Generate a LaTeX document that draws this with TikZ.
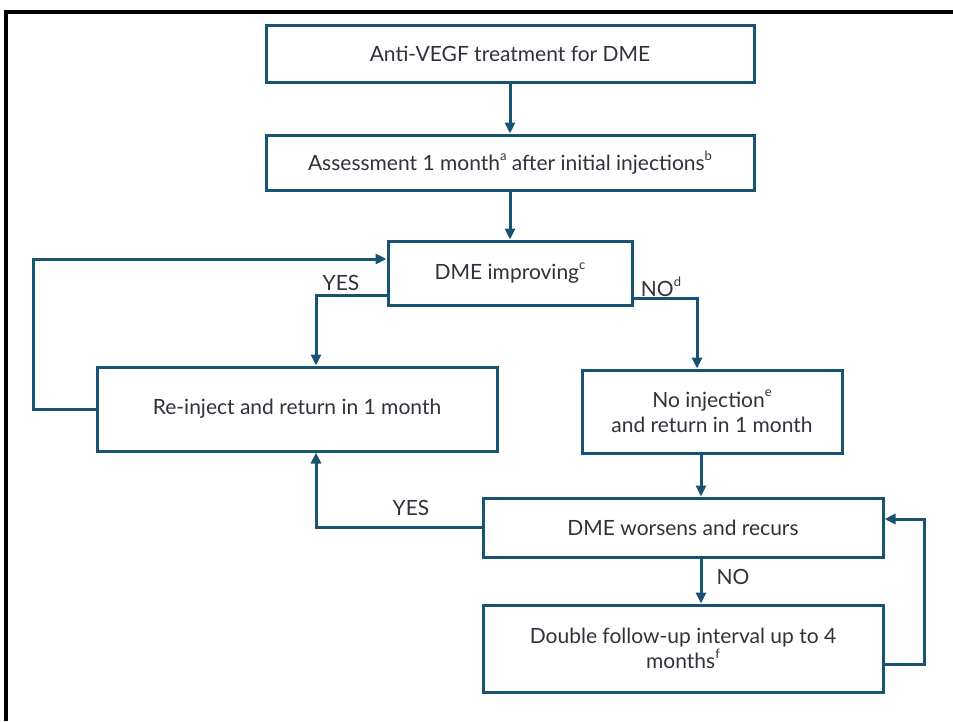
\documentclass[tikz,border=0pt]{standalone}
\usepackage{fontspec}
\setmainfont{Lato}
\usetikzlibrary{arrows.meta,calc}
\definecolor{teal}{RGB}{24,84,114}
\definecolor{txt}{RGB}{50,48,58}
\newcommand{\sups}[1]{\raisebox{0.5em}{\fontsize{13}{13}\selectfont #1}}
\tikzset{
  box/.style={draw=teal,line width=3pt,rectangle,inner sep=2pt,align=center,text=txt,font=\fontsize{21}{25.5}\selectfont},
  conn/.style={draw=teal,line width=3pt},
  arr/.style={conn,-{Triangle[length=11pt,width=10pt]}},
  lbl/.style={text=txt,font=\fontsize{21}{25}\selectfont,inner sep=0pt}
}
\begin{document}
\begin{tikzpicture}[x=1pt,y=-1pt]
\useasboundingbox (0,0) rectangle (953,721);
\draw[line width=3.4pt,black] (953,12) -- (6,12) -- (6,721);
\node[box,minimum width=488pt,minimum height=57pt] (b1) at (510,53.5) {Anti-VEGF treatment for DME};
\node[box,minimum width=488pt,minimum height=55pt] (b2) at (510,162.5) {Assessment 1 month\sups{a} after initial injections\sups{b}};
\node[box,minimum width=244pt,minimum height=64pt] (b3) at (510,273) {DME improving\sups{c}};
\node[box,minimum width=400pt,minimum height=84pt] (b4) at (297,409) {Re-inject and return in 1 month};
\node[box,minimum width=260pt,minimum height=83pt] (b5) at (712,411.5) {No injection\sups{e}\\and return in 1 month};
\node[box,minimum width=400pt,minimum height=59pt] (b6) at (683,527.5) {DME worsens and recurs};
\node[box,minimum width=400pt,minimum height=87pt] (b7) at (683,648.5) {Double follow-up interval up to 4\\months\sups{f}};
\coordinate (y1) at (316,295);
\coordinate (lx) at (33,259);
\coordinate (n1) at (697,298);
\coordinate (n2) at (701,0);
\coordinate (rl) at (924,519);
\coordinate (rb) at (924,664);
\draw[arr] (b1.south) -- (b2.north);
\draw[arr] (b2.south) -- (b3.north);
\draw[arr] (b3.west |- y1) -| (b4.north -| y1);
\draw[arr] (b4.west) -| (lx) -- (b3.west |- lx);
\draw[arr] (b3.east |- n1) -| (b5.north -| n1);
\draw[arr] (b5.south -| n2) -- (b6.north -| n2);
\draw[arr] (b6.west) -| (b4.south -| y1);
\draw[arr] (b6.south -| n2) -- (b7.north -| n2);
\draw[arr] (b7.east |- rb) -- (rb) -- (rl) -- (b6.east |- rl);
\node[lbl] (l1) at (341,283) {YES};
\node[lbl] (l2) at (661,287) {NO\sups{d}};
\node[lbl] (l3) at (411,508) {YES};
\node[lbl] (l4) at (733,577) {NO};
\end{tikzpicture}
\end{document}
